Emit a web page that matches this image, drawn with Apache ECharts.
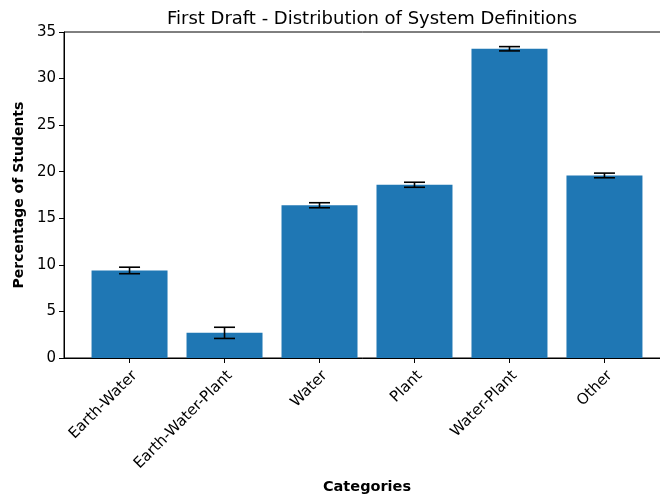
<!DOCTYPE html>
<html>
<head>
<meta charset="utf-8">
<script src="https://cdn.jsdelivr.net/npm/echarts@6/dist/echarts.min.js"></script>
<style>
  html, body { margin: 0; padding: 0; background: #fff; }
  #chart { width: 660px; height: 496px; }
</style>
</head>
<body>
<div id="chart"></div>
<script>
// Share of students per system definition (first draft), with error margins
const categories = ['Earth-Water', 'Earth-Water-Plant', 'Water', 'Plant', 'Water-Plant', 'Other'];
const percentages = [9.4, 2.7, 16.4, 18.6, 33.2, 19.6];
const errors = [0.35, 0.6, 0.27, 0.27, 0.23, 0.25];
const yTicks = [0, 5, 10, 15, 20, 25, 30, 35];

const FONT = 'DejaVu Sans';
const BAR_HALF = 0.4;

const barData = categories.map((c, i) => [i, percentages[i]]);
const errData = categories.map((c, i) => [i, percentages[i], errors[i]]);
const positions = categories.map((c, i) => i);

const chart = echarts.init(document.getElementById('chart'), null, { renderer: 'canvas' });

chart.setOption({
  animation: false,
  backgroundColor: '#ffffff',
  title: {
    text: 'First Draft - Distribution of System Definitions',
    left: 367,
    top: 5,
    textAlign: 'center',
    textStyle: { fontFamily: FONT, fontSize: 18, fontWeight: 'normal', color: '#000' }
  },
  grid: {
    left: 64, right: -10, top: 32, bottom: 138,
    containLabel: false,
    outerBoundsMode: 'none',
    show: true, borderColor: '#000', borderWidth: 1, backgroundColor: 'transparent'
  },
  xAxis: {
    type: 'value',
    min: -0.69,
    max: 5.69,
    name: 'Categories',
    nameLocation: 'middle',
    nameGap: 122,
    nameTextStyle: { fontFamily: FONT, fontSize: 14.5, fontWeight: 'bold', color: '#000' },
    splitLine: { show: false },
    axisLine: { show: true, onZero: false, lineStyle: { color: '#000', width: 1 } },
    axisTick: { show: true, customValues: positions, length: 5, lineStyle: { color: '#000' } },
    axisLabel: {
      customValues: positions,
      rotate: 45,
      align: 'right',
      verticalAlign: 'top',
      margin: 10,
      fontFamily: FONT,
      fontSize: 15,
      color: '#000',
      formatter: v => categories[Math.round(v)]
    }
  },
  yAxis: {
    type: 'value',
    min: 0,
    max: 35,
    interval: 5,
    name: 'Percentage of Students',
    nameLocation: 'middle',
    nameGap: 38,
    nameTextStyle: { fontFamily: FONT, fontSize: 14, fontWeight: 'bold', color: '#000' },
    splitLine: { show: false },
    axisLine: { show: true, onZero: false, lineStyle: { color: '#000', width: 1 } },
    axisTick: { show: true, length: 5, lineStyle: { color: '#000' } },
    axisLabel: {
      margin: 8,
      fontFamily: FONT,
      fontSize: 15,
      color: '#000',
      formatter: v => (yTicks.includes(v) ? String(v) : '')
    }
  },
  series: [
    {
      type: 'custom',
      name: 'bars',
      data: barData,
      encode: { x: 0, y: 1 },
      renderItem: (params, api) => {
        const i = api.value(0);
        const v = api.value(1);
        const tl = api.coord([i - BAR_HALF, v]);
        const br = api.coord([i + BAR_HALF, 0]);
        return {
          type: 'rect',
          shape: { x: tl[0], y: tl[1], width: br[0] - tl[0], height: br[1] - tl[1] },
          style: { fill: '#1f77b4' }
        };
      },
      z: 2
    },
    {
      type: 'custom',
      name: 'errors',
      data: errData,
      encode: { x: 0, y: 1 },
      renderItem: (params, api) => {
        const i = api.value(0);
        const v = api.value(1);
        const e = api.value(2);
        const lo = api.coord([i, v - e]);
        const hi = api.coord([i, v + e]);
        const cap = 10.5;
        const style = { stroke: '#000', lineWidth: 1.6 };
        return {
          type: 'group',
          children: [
            { type: 'line', shape: { x1: lo[0], y1: lo[1], x2: hi[0], y2: hi[1] }, style },
            { type: 'line', shape: { x1: lo[0] - cap, y1: lo[1], x2: lo[0] + cap, y2: lo[1] }, style },
            { type: 'line', shape: { x1: hi[0] - cap, y1: hi[1], x2: hi[0] + cap, y2: hi[1] }, style }
          ]
        };
      },
      z: 3
    }
  ]
});
</script>
</body>
</html>
